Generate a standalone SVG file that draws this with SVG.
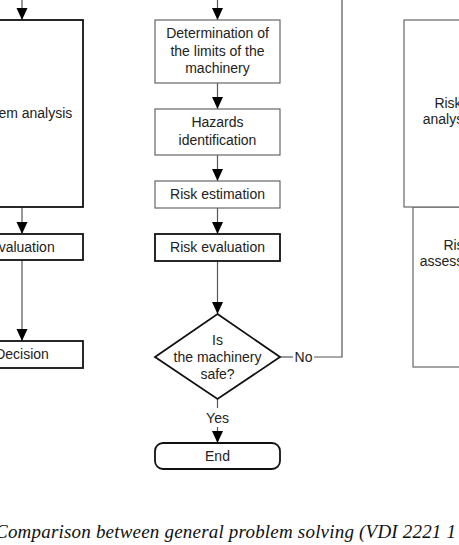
<svg xmlns="http://www.w3.org/2000/svg" width="459" height="545" viewBox="0 0 459 545">
<defs>
<marker id="ah" markerWidth="11" markerHeight="12" refX="12" refY="5.5" orient="auto" markerUnits="userSpaceOnUse">
<path d="M0,0 L12,5.5 L0,11 Z" fill="#000"/>
</marker>
<style>
text{font-family:"Liberation Sans",Arial,sans-serif;font-size:14px;fill:#222;text-anchor:middle}
.gb{fill:#fff;stroke:#666;stroke-width:1.2}
.kb{fill:#fff;stroke:#111;stroke-width:1.8}
.cn{fill:none;stroke:#555;stroke-width:1.2}
.cap{font-family:"Liberation Serif","Times New Roman",serif;font-style:italic;font-size:19px;text-anchor:start;fill:#111}
</style>
</defs>
<rect width="459" height="545" fill="#fff"/>
<g id="connectors">
<line class="cn" x1="22" y1="0" x2="22" y2="20" marker-end="url(#ah)"/>
<line class="cn" x1="22" y1="207" x2="22" y2="234" marker-end="url(#ah)"/>
<line class="cn" x1="22" y1="260" x2="22" y2="341" marker-end="url(#ah)"/>
<line class="cn" x1="217.5" y1="0" x2="217.5" y2="20" marker-end="url(#ah)"/>
<line class="cn" x1="217.5" y1="83" x2="217.5" y2="109" marker-end="url(#ah)"/>
<line class="cn" x1="217.5" y1="155" x2="217.5" y2="181" marker-end="url(#ah)"/>
<line class="cn" x1="217.5" y1="208" x2="217.5" y2="234" marker-end="url(#ah)"/>
<line class="cn" x1="217.5" y1="261" x2="217.5" y2="314" marker-end="url(#ah)"/>
<line class="cn" x1="217.5" y1="399" x2="217.5" y2="408"/>
<line class="cn" x1="217.5" y1="427" x2="217.5" y2="443" marker-end="url(#ah)"/>
<polyline class="cn" points="280,357 293,357"/>
<polyline class="cn" points="314,357 342,357 342,0"/>
<text x="217.5" y="423">Yes</text>
<text x="303.5" y="362">No</text>
</g>
<g id="problem-analysis"><rect class="kb" x="-39" y="20" width="122" height="187"/><text x="19" y="118">Problem analysis</text></g>
<g id="evaluation"><rect class="kb" x="-39" y="234" width="122" height="26"/><text x="22" y="252">Evaluation</text></g>
<g id="decision"><rect class="kb" x="-39" y="341" width="122" height="27"/><text x="22" y="359">Decision</text></g>
<g id="limits"><rect class="gb" x="155" y="20" width="125" height="63"/><text x="217.5" y="38">Determination of</text><text x="217.5" y="55.5">the limits of the</text><text x="217.5" y="73">machinery</text></g>
<g id="hazards"><rect class="gb" x="155" y="109" width="125" height="46"/><text x="217.5" y="127">Hazards</text><text x="217.5" y="145">identification</text></g>
<g id="risk-estimation"><rect class="gb" x="155" y="181" width="125" height="27"/><text x="217.5" y="199">Risk estimation</text></g>
<g id="risk-evaluation"><rect class="kb" x="155" y="234" width="125" height="27"/><text x="217.5" y="252">Risk evaluation</text></g>
<g id="safe"><polygon class="kb" points="217.5,314 280,357 217.5,399 155,357"/><text x="217.5" y="345">Is</text><text x="217.5" y="362">the machinery</text><text x="217.5" y="379">safe?</text></g>
<g id="end"><rect class="kb" x="155" y="443" width="125" height="26" rx="8"/><text x="217.5" y="461">End</text></g>
<g id="risk-assessment"><rect class="gb" x="413" y="207" width="88" height="160"/><text x="457" y="250">Risk</text><text x="457" y="266">assessment</text></g>
<g id="risk-analysis"><rect class="gb" x="404" y="20" width="88" height="187"/><text x="448" y="108">Risk</text><text x="448" y="124">analysis</text></g>
<text class="cap" x="-5" y="538" textLength="461" lengthAdjust="spacing">Comparison between general problem solving (VDI 2221 1</text>
</svg>
